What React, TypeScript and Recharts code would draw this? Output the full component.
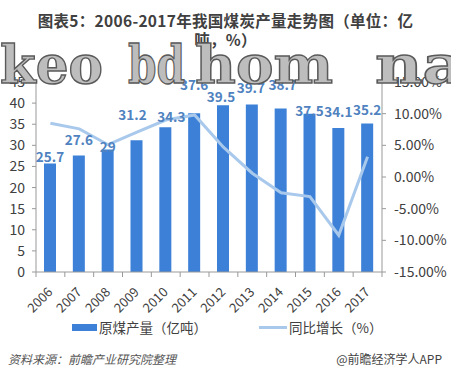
import React from 'react';
import { ComposedChart, Bar, Line, XAxis, YAxis, LabelList } from 'recharts';

const years = ['2006', '2007', '2008', '2009', '2010', '2011', '2012', '2013', '2014', '2015', '2016', '2017'];
const output = [25.7, 27.6, 29, 31.2, 34.3, 37.6, 39.5, 39.7, 38.7, 37.5, 34.1, 35.2];
const growth = [8.5, 7.6, 5.1, 7.1, 9.0, 9.8, 4.7, 0.6, -2.5, -3.1, -9.2, 3.2];
const leftTicks = [0, 5, 10, 15, 20, 25, 30, 35, 40, 45];
const rightTicks = [-15, -10, -5, 0, 5, 10, 15];

const data = years.map((y, i) => ({ year: y, output: output[i], growth: growth[i] }));

// label placement nudges (px), matching the hand-placed labels of the original
const LABEL_DX = [0, 0, 0, -4, 6, 0, -2, -1, 2, 0, 0, 0];
const LABEL_DY = [4, -5, 8, -15, 0, -18, 2, -6, -13, 8, -6, -3];

const FONT = '"Noto Sans CJK SC", "Noto Sans", sans-serif';
const BAR = '#3c80d8';
const LINE = '#a9c9ec';
const LABEL = '#4f82bf';
const TEXT = '#404040';

const XTick = (props: any) => {
  const { x, y, payload, index } = props;
  const off = (payload && payload.offset) || 14.375;
  return (
    <g>
      <line x1={x - off} y1={y} x2={x - off} y2={y + 5} stroke="#999" />
      {index === years.length - 1 && <line x1={x + off} y1={y} x2={x + off} y2={y + 5} stroke="#999" />}
      <text
        x={x + 3}
        y={y + 21}
        transform={`rotate(-45, ${x + 3}, ${y + 21})`}
        textAnchor="end"
        fill={TEXT}
        fontSize={13}
        fontFamily={FONT}
      >
        {payload.value}
      </text>
    </g>
  );
};

const BarLabel = (props: any) => {
  const { x, y, width, value, index } = props;
  return (
    <text
      x={x + width / 2 + LABEL_DX[index]}
      y={y - 10 + LABEL_DY[index]}
      dy="0.35em"
      textAnchor="middle"
      fill={LABEL}
      fontSize={13.5}
      fontWeight="bold"
      fontFamily={FONT}
    >
      {value}
    </text>
  );
};

const WM = { fontFamily: '"DejaVu Serif", serif', fontWeight: 'bold' as const, fontSize: 52, fill: '#bdbdbd', stroke: '#5a5a5a', strokeWidth: 1.4 };

export default function App() {
  return (
    <div style={{ position: 'absolute', left: 0, top: 0, width: 451, height: 379, background: '#fff', overflow: 'hidden' }}>
      <div style={{ position: 'absolute', left: 0, top: 11, width: 451, textAlign: 'center', fontFamily: FONT, fontWeight: 'bold', fontSize: 15.5, color: TEXT, lineHeight: '19px', letterSpacing: 0.3 }}>
        <div>图表5：2006-2017年我国煤炭产量走势图（单位：亿</div>
        <div>吨，%）</div>
      </div>
      <div style={{ position: 'absolute', left: 0, top: 0 }}>
        <ComposedChart width={451} height={379} data={data} margin={{ top: 82, right: 0, bottom: 67, left: 0 }} barCategoryGap="58%">
          <XAxis dataKey="year" height={40} interval={0} tickSize={0} tickMargin={0} tickLine={false} axisLine={{ stroke: '#999' }} tick={<XTick />} />
          <YAxis yAxisId="left" width={36} domain={[0, 45]} ticks={leftTicks} interval={0} tickSize={4} tickMargin={7} axisLine={{ stroke: '#999' }} tickLine={{ stroke: '#999' }} tick={{ fill: TEXT, fontSize: 14, fontFamily: FONT }} />
          <YAxis yAxisId="right" orientation="right" width={69} domain={[-15, 15]} ticks={rightTicks} interval={0} tickSize={4} tickMargin={8} tickFormatter={(v: number) => v.toFixed(2) + '%'} axisLine={{ stroke: '#999' }} tickLine={{ stroke: '#999' }} tick={{ fill: TEXT, fontSize: 14, fontFamily: FONT, textAnchor: 'start' }} />
          <Bar yAxisId="left" dataKey="output" fill={BAR} barSize={12} isAnimationActive={false}>
            <LabelList dataKey="output" content={<BarLabel />} />
          </Bar>
          <Line yAxisId="right" dataKey="growth" stroke={LINE} strokeWidth={3} dot={false} activeDot={false} isAnimationActive={false} />
        </ComposedChart>
      </div>
      <svg width={451} height={379} style={{ position: 'absolute', left: 0, top: 0, pointerEvents: 'none' }}>
        <text x={0} y={83} textLength={103} lengthAdjust="spacingAndGlyphs" {...WM}>keo</text>
        <text x={128} y={83} textLength={57} lengthAdjust="spacingAndGlyphs" {...WM}>bd</text>
        <text x={195} y={83} textLength={138} lengthAdjust="spacingAndGlyphs" {...WM}>hom</text>
        <text x={375} y={83} textLength={90} lengthAdjust="spacingAndGlyphs" {...WM}>na</text>
        <rect x={72} y={324} width={25} height={7} fill={BAR} />
        <text x={99} y={328} dy="0.35em" fontSize={13.5} fill={TEXT} fontFamily={FONT}>原煤产量（亿吨）</text>
        <line x1={259} y1={327.5} x2={287} y2={327.5} stroke={LINE} strokeWidth={3} />
        <text x={289} y={328} dy="0.35em" fontSize={13.5} fill={TEXT} fontFamily={FONT}>同比增长（%）</text>
        <text x={8} y={360} dy="0.35em" fontSize={12} fill="#555" fontStyle="italic" fontFamily={FONT}>资料来源：前瞻产业研究院整理</text>
        <text x={442} y={360} dy="0.35em" fontSize={12} fill="#444" textAnchor="end" fontFamily={FONT}>@前瞻经济学人APP</text>
      </svg>
    </div>
  );
}
